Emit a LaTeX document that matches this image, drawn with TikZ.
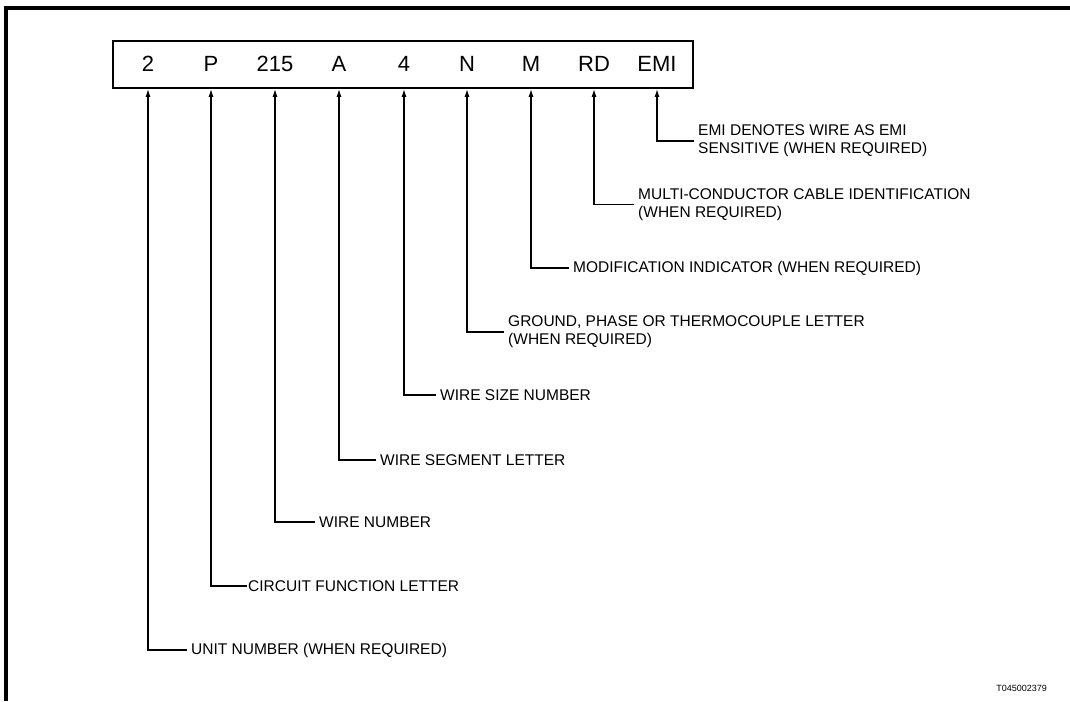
\documentclass[tikz,border=0pt]{standalone}
\usepackage{fontspec}
\setmainfont{Liberation Sans}
\usetikzlibrary{arrows.meta,positioning,calc}

\begin{document}
\begin{tikzpicture}[x=1pt,y=-1pt,>={Latex[length=8pt,width=5pt]},
  field/.style={font=\fontsize{22}{24}\selectfont,inner sep=0pt},
  lbl/.style={anchor=west,align=left,inner sep=0pt,font=\fontsize{15.5}{18}\selectfont},
  lead/.style={line width=1.3pt}]
  \useasboundingbox (0,0) rectangle (1070,701);
  \draw[line width=3.5pt] (1070,8) -- (6,8) -- (6,701);
  % code box
  \node[draw,line width=1.8pt,minimum width=580pt,minimum height=47pt,inner sep=0pt] (code) at (403,64.5) {};
  \node[field] (f2) at (148,64) {2};
  \node[field] (fP) at (211,64) {P};
  \node[field] (f215) at (275,64) {215};
  \node[field] (fA) at (339,64) {A};
  \node[field] (f4) at (404,64) {4};
  \node[field] (fN) at (467,64) {N};
  \node[field] (fM) at (531,64) {M};
  \node[field] (fRD) at (594,64) {RD};
  \node[field] (fEMI) at (657,64) {EMI};
  % labels
  \node[lbl] (lEMI) at (698,141) {EMI DENOTES WIRE AS EMI\\SENSITIVE (WHEN REQUIRED)};
  \node[lbl] (lRD) at (638,204.5) {MULTI-CONDUCTOR CABLE IDENTIFICATION\\(WHEN REQUIRED)};
  \node[lbl] (lM) at (573,268) {MODIFICATION INDICATOR (WHEN REQUIRED)};
  \node[lbl] (lN) at (508,332) {GROUND, PHASE OR THERMOCOUPLE LETTER\\(WHEN REQUIRED)};
  \node[lbl] (l4) at (440,395) {WIRE SIZE NUMBER};
  \node[lbl] (lA) at (380,460) {WIRE SEGMENT LETTER};
  \node[lbl] (l215) at (319,522) {WIRE NUMBER};
  \node[lbl] (lP) at (248,586) {CIRCUIT FUNCTION LETTER};
  \node[lbl] (l2) at (191,650) {UNIT NUMBER (WHEN REQUIRED)};
  % leaders
  \draw[lead,->] ([xshift=-4pt]lEMI.west) -| (fEMI |- code.south);
  \draw[lead,->] ([xshift=-4pt]lRD.west) -| (fRD |- code.south);
  \draw[lead,->] ([xshift=-4pt]lM.west) -| (fM |- code.south);
  \draw[lead,->] ([xshift=-4pt]lN.west) -| (fN |- code.south);
  \draw[lead,->] ([xshift=-4pt]l4.west) -| (f4 |- code.south);
  \draw[lead,->] ([xshift=-4pt]lA.west) -| (fA |- code.south);
  \draw[lead,->] ([xshift=-4pt]l215.west) -| (f215 |- code.south);
  \draw[lead,->] ([xshift=-1pt]lP.west) -| (fP |- code.south);
  \draw[lead,->] ([xshift=-4pt]l2.west) -| (f2 |- code.south);
  \node[anchor=east,inner sep=0pt,font=\fontsize{9}{10}\selectfont] (fig) at (1047,688) {T045002379};
\end{tikzpicture}
\end{document}
